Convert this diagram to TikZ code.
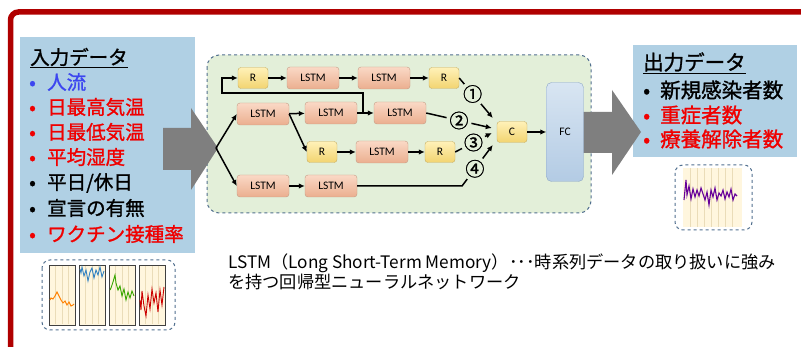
\documentclass[tikz,border=0pt]{standalone}
\usepackage{fontspec}
\setmainfont{Noto Sans CJK JP}
\newfontfamily\listfont[FakeBold=1.2]{Noto Sans CJK JP}
\newfontfamily\labfont{Carlito}
\usetikzlibrary{arrows.meta}

\definecolor{framered}{HTML}{B00000}
\definecolor{boxblue}{HTML}{B0D0E4}
\definecolor{netgreen}{HTML}{E3EFD9}
\definecolor{dashblue}{HTML}{52708F}
\definecolor{arrowgray}{HTML}{7F7F7F}
\definecolor{itemred}{HTML}{F00000}
\definecolor{itemblue}{HTML}{3C46F0}
\definecolor{lstmtop}{HTML}{FAD9C6}
\definecolor{lstmbot}{HTML}{EBAE8F}
\definecolor{lstmline}{HTML}{C49C86}
\definecolor{rtop}{HTML}{FFF1B8}
\definecolor{rbot}{HTML}{F2D470}
\definecolor{rline}{HTML}{C7AE62}
\definecolor{fctop}{HTML}{D8E5F2}
\definecolor{fcbot}{HTML}{B3CBE4}
\definecolor{fcline}{HTML}{8EA8C6}
\definecolor{panel}{HTML}{FFF6DE}
\definecolor{panelgrid}{HTML}{EADCB8}

\tikzset{
  lstm/.style={rounded corners=3pt, draw=lstmline, top color=lstmtop,
    bottom color=lstmbot, minimum width=52pt, minimum height=22pt,
    inner sep=0pt, font=\labfont\fontsize{11.5}{12}\selectfont},
  rbox/.style={rounded corners=3pt, draw=rline, top color=rtop,
    bottom color=rbot, minimum width=30pt, minimum height=21pt,
    inner sep=0pt, font=\labfont\fontsize{11.5}{12}\selectfont},
  fcbox/.style={rounded corners=5pt, draw=fcline, top color=fctop,
    bottom color=fcbot, minimum width=37pt, minimum height=99pt,
    inner sep=0pt, font=\labfont\fontsize{11.5}{12}\selectfont},
  edge/.style={line width=1.5pt, -{Latex[length=6pt,width=5.5pt]}},
  num/.style={circle, fill=netgreen, inner sep=0pt,
    font=\listfont\fontsize{19}{19}\selectfont},
  item/.style={anchor=west, inner sep=0pt,
    font=\listfont\fontsize{19.5}{22}\selectfont},
  outitem/.style={anchor=west, inner sep=0pt,
    font=\listfont\fontsize{20.5}{23}\selectfont},
  note/.style={anchor=west, inner sep=0pt, font=\fontsize{17.2}{20}\selectfont},
  chartbox/.style={draw=dashblue, dashed, line width=1pt, rounded corners=8pt},
  chartpanel/.style={fill=panel, draw=black!75, line width=0.9pt},
}

\begin{document}
\begin{tikzpicture}[x=1pt,y=-1pt]
  \useasboundingbox (0,0) rectangle (801,347);
  \fill[white] (0,0) rectangle (801,347);

  % frame
  \draw[framered, line width=5.5pt, rounded corners=8pt]
    (10.5,355) -- (10.5,12) -- (810,12);

  % boxes
  \fill[boxblue] (20,37) rectangle (195,253);
  \fill[boxblue] (633,45) rectangle (797,157);
  \draw[dashblue, dashed, line width=1pt, fill=netgreen, rounded corners=12pt]
    (207,55) rectangle (591,213);

  % big arrows
  \fill[arrowgray] (163,128) -- (191,128) -- (191,108) -- (218,148)
    -- (191,190) -- (191,170) -- (163,170) -- cycle;
  \fill[arrowgray] (575,112) -- (612,112) -- (612,90) -- (641,132)
    -- (612,175) -- (612,153) -- (575,153) -- cycle;
  \coordinate (tip) at (216,148);

  % input list
  \node[item] (intitle) at (30,58) {\underline{入力データ}};
  \node[item, text=itemblue] (in1) at (29,82) {\makebox[18pt][l]{•}人流};
  \node[item, text=itemred] (in2) at (29,107) {\makebox[18pt][l]{•}日最高気温};
  \node[item, text=itemred] (in3) at (29,132) {\makebox[18pt][l]{•}日最低気温};
  \node[item, text=itemred] (in4) at (29,157) {\makebox[18pt][l]{•}平均湿度};
  \node[item] (in5) at (29,183) {\makebox[18pt][l]{•}平日/休日};
  \node[item] (in6) at (29,208) {\makebox[18pt][l]{•}宣言の有無};
  \node[item, text=itemred] (in7) at (29,234) {\makebox[18pt][l]{•}ワクチン接種率};

  % output list
  \node[outitem] (outtitle) at (643,63) {\underline{出力データ}};
  \node[outitem] (out1) at (643,90) {\makebox[17pt][l]{•}新規感染者数};
  \node[outitem, text=itemred] (out2) at (643,115) {\makebox[17pt][l]{•}重症者数};
  \node[outitem, text=itemred] (out3) at (643,139) {\makebox[17pt][l]{•}療養解除者数};

  % input charts
  \draw[chartbox] (42,260) rectangle (175,330);
  \foreach \xa in {49,79,109,139} {
    \draw[chartpanel] (\xa,265) rectangle ++(26,60);
    \draw[panelgrid, line width=0.6pt] (\xa+6.5,266) -- ++(0,58)
      (\xa+13,266) -- ++(0,58) (\xa+19.5,266) -- ++(0,58);
  }
  \draw[orange, line width=0.9pt] plot coordinates {(50,300) (51,298) (53,299)
    (55,296) (57,292) (59,296) (61,300) (63,303) (65,301) (67,305) (69,302)
    (71,306) (73,305) (74,304)};
  \draw[blue!45!cyan!70!black!80, line width=0.9pt] plot coordinates {(80,269)
    (81,273) (82,267) (84,276) (86,270) (88,281) (90,272) (92,268) (94,278)
    (96,270) (98,275) (100,267) (102,277) (104,271)};
  \draw[green!50!black!70!lime, line width=0.9pt] plot coordinates {(110,290)
    (111,288) (113,282) (115,275) (116,283) (118,290) (120,286) (122,296)
    (124,289) (126,300) (128,292) (130,298) (132,291) (134,296)};
  \draw[red!80!black, line width=0.9pt] plot coordinates {(140,300) (141,310)
    (142,291) (144,306) (146,316) (148,295) (150,309) (152,289) (154,303)
    (156,293) (158,312) (160,290) (162,305) (164,287)};

  % output chart
  \draw[chartbox] (675,165) rectangle (752,230);
  \fill[panel] (683,168) rectangle (742,227);
  \foreach \xb in {690,697,704,711,718,725,732} {
    \draw[panelgrid, line width=0.6pt] (\xb,168) -- (\xb,227);
  }
  \draw[violet!80!blue, line width=1.1pt] plot coordinates {(684,200) (686,180)
    (687,195) (689,186) (691,199) (693,189) (695,197) (697,190) (699,196)
    (701,188) (703,194) (705,200) (707,192) (709,205) (711,190) (713,197)
    (715,188) (717,200) (719,193) (721,196) (723,190) (725,199) (727,192)
    (729,197) (731,189) (733,200) (735,194) (737,196)};

  % network
  \node[rbox] (r1) at (253,78) {R};
  \node[lstm] (lt1) at (313,78) {LSTM};
  \node[lstm] (lt2) at (384,78) {LSTM};
  \node[rbox] (r2) at (444,78) {R};
  \node[lstm] (lm1) at (263,114) {LSTM};
  \node[lstm] (lm2) at (331,113) {LSTM};
  \node[lstm] (lm3) at (400,113) {LSTM};
  \node[rbox] (r3) at (322,152) {R};
  \node[lstm] (lm4) at (382,152) {LSTM};
  \node[rbox] (r4) at (440,152) {R};
  \node[lstm] (lb1) at (263,186) {LSTM};
  \node[lstm] (lb2) at (331,186) {LSTM};
  \node[rbox] (c) at (512,132) {C};
  \node[fcbox] (fc) at (565,132) {FC};

  \coordinate (br) at (363,113);
  \coordinate (bl) at (222,93);
  \coordinate (k4) at (462,186);

  \draw[edge] (tip) -- (lm1.west);
  \draw[edge] (tip) -- (lb1.west);
  \draw[edge] (lm1) -- (lm2);
  \draw[edge] (lm1.east) -- (r3.west);
  \draw[edge] (lm2) -- (lm3);
  \draw[edge] (br) |- (bl) |- (r1.west);
  \draw[edge] (r1) -- (lt1);
  \draw[edge] (lt1) -- (lt2);
  \draw[edge] (lt2) -- (r2);
  \draw[edge] (r3) -- (lm4);
  \draw[edge] (lm4) -- (r4);
  \draw[edge] (lb1) -- (lb2);
  \draw[edge] (r2.east) -- node[num, pos=0.4] (n1) {①}
    ([xshift=-4pt,yshift=14pt]c.west);
  \draw[edge] (lm3.east) -- node[num, pos=0.5] (n2) {②}
    ([xshift=-5pt,yshift=4pt]c.west);
  \draw[edge] (r4.east) -- node[num, pos=0.5] (n3) {③}
    ([xshift=-5pt,yshift=-1pt]c.west);
  \draw[edge] (lb2) -- (k4) -- node[num, pos=0.42] (n4) {④}
    ([xshift=-4pt,yshift=-13pt]c.west);
  \draw[edge] (c) -- (fc);

  % note
  \node[note] (note1) at (228,263)
    {LSTM（Long Short-Term Memory）･･･時系列データの取り扱いに強み};
  \node[note] (note2) at (228,282) {を持つ回帰型ニューラルネットワーク};
\end{tikzpicture}
\end{document}
